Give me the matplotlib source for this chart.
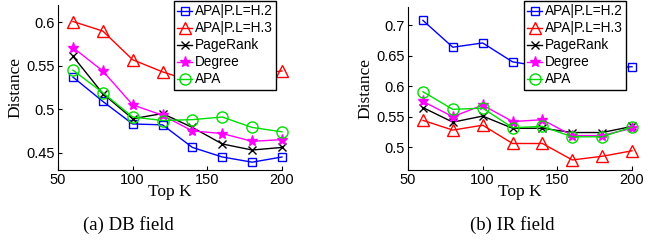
import matplotlib.pyplot as plt

topk = [60, 80, 100, 120, 140, 160, 180, 200]
labels = ['APA|P.L=H.2', 'APA|P.L=H.3', 'PageRank', 'Degree', 'APA']

# DB field
db_h2 = [0.537, 0.509, 0.483, 0.482, 0.456, 0.445, 0.439, 0.445]
db_h3 = [0.601, 0.590, 0.557, 0.543, 0.532, 0.536, 0.540, 0.544]
db_pagerank = [0.561, 0.518, 0.489, 0.495, 0.479, 0.460, 0.453, 0.456]
db_degree = [0.571, 0.544, 0.505, 0.493, 0.475, 0.472, 0.463, 0.465]
db_apa = [0.545, 0.519, 0.491, 0.487, 0.488, 0.491, 0.479, 0.474]

# IR field
ir_h2 = [0.708, 0.664, 0.671, 0.640, 0.632, 0.630, 0.629, 0.632]
ir_h3 = [0.544, 0.528, 0.536, 0.506, 0.506, 0.479, 0.485, 0.494]
ir_pagerank = [0.565, 0.541, 0.551, 0.531, 0.531, 0.524, 0.524, 0.534]
ir_degree = [0.575, 0.550, 0.569, 0.542, 0.545, 0.519, 0.519, 0.531]
ir_apa = [0.591, 0.562, 0.564, 0.532, 0.534, 0.517, 0.517, 0.533]

styles = [dict(color='blue', marker='s', ms=6, mfc='none'),
          dict(color='red', marker='^', ms=9, mfc='none'),
          dict(color='black', marker='x', ms=6),
          dict(color='magenta', marker='*', ms=8),
          dict(color='#00dd00', marker='o', ms=8, mfc='none')]

sans = ['Liberation Sans', 'DejaVu Sans']
serif = ['Liberation Serif', 'DejaVu Serif']

fig = plt.figure(figsize=(6.6, 2.42), dpi=100)
W, H = 660, 242


def panel(left, top, series, ylim, yticks, caption, capx):
    ax = fig.add_axes([left / W, 1 - 170 / H, 224 / W, (170 - top) / H])
    for s, lab, st in zip(series, labels, styles):
        ax.plot(topk, s, label=lab, lw=1, mew=1, clip_on=False, **st)
    ax.set_xlim(50, 200)
    ax.set_ylim(*ylim)
    ax.set_xticks([50, 100, 150, 200])
    ax.set_yticks(yticks)
    ax.set_yticklabels([('%g' % t) for t in yticks])
    for sp in ['top', 'right']:
        ax.spines[sp].set_visible(False)
    ax.tick_params(direction='in', length=3, labelsize=10.5, pad=2)
    for t in ax.get_xticklabels() + ax.get_yticklabels():
        t.set_family(sans)
    ax.set_xlabel('Top K', family=serif, fontsize=12.5, labelpad=-2)
    ax.set_ylabel('Distance', family=serif, fontsize=12.5, labelpad=2)
    leg = ax.legend(loc='upper right', bbox_to_anchor=(0.975, 1.0 + (top - 1) / (170 - top)),
                    fancybox=False, edgecolor='black', framealpha=1, handlelength=1.1,
                    handletextpad=0.2, borderpad=0.25, labelspacing=0.22,
                    prop={'family': sans, 'size': 9.8}, borderaxespad=0)
    leg.get_frame().set_linewidth(1)
    fig.text(capx / W, 1 - 225 / H, caption, family=serif, fontsize=13.5,
             ha='center', va='center')
    return ax


panel(58, 5, [db_h2, db_h3, db_pagerank, db_degree, db_apa], (0.43, 0.62),
      [0.45, 0.5, 0.55, 0.6], '(a) DB field', 128)
panel(408, 7, [ir_h2, ir_h3, ir_pagerank, ir_degree, ir_apa], (0.4625, 0.73),
      [0.5, 0.55, 0.6, 0.65, 0.7], '(b) IR field', 512)

fig.savefig('out.png', dpi=100)
